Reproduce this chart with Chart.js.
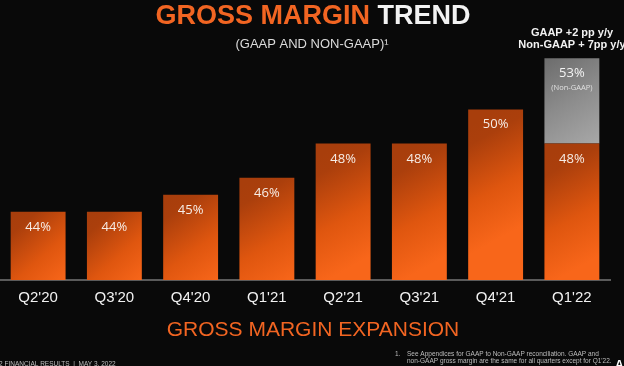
<!DOCTYPE html>
<html>
<head>
<meta charset="utf-8">
<script src="https://cdn.jsdelivr.net/npm/chart.js@4.4.0/dist/chart.umd.min.js"></script>
<style>
  html, body { margin: 0; padding: 0; background: #090909; }
  #wrap { position: relative; width: 624px; height: 366px; overflow: hidden; }
</style>
</head>
<body>
<div id="wrap"><canvas id="marginChart" width="624" height="366"></canvas></div>
<script>
// === Data ===
const quarters = ["Q2'20", "Q3'20", "Q4'20", "Q1'21", "Q2'21", "Q3'21", "Q4'21", "Q1'22"];
const gaapMargin = [44, 44, 45, 46, 48, 48, 50, 48];
const nonGaapMargin = [null, null, null, null, null, null, null, 53];

const ORANGE = "#f26522";

// === Gradient helpers ===
function barBox(chart, index, lo, hi) {
  const x = chart.scales.x;
  const y = chart.scales.y;
  const half = (x.getPixelForValue(1) - x.getPixelForValue(0)) * 0.72 / 2;
  const xc = x.getPixelForValue(index);
  return { left: xc - half, right: xc + half, top: y.getPixelForValue(hi), bottom: y.getPixelForValue(lo) };
}

function orangeFill(context) {
  const chart = context.chart;
  if (!chart.chartArea) return ORANGE;
  const b = barBox(chart, context.dataIndex, 40, gaapMargin[context.dataIndex]);
  const w = b.right - b.left;
  const h = b.bottom - b.top;
  const y0 = b.top + h * 0.1;
  const g = chart.ctx.createLinearGradient(b.left, y0, b.right, Math.min(b.bottom, y0 + w * 1.8));
  g.addColorStop(0, "#a83e0c");
  g.addColorStop(0.15, "#ab3f0c");
  g.addColorStop(0.6, "#df560f");
  g.addColorStop(1, "#f8661a");
  return g;
}

function grayFill(context) {
  const chart = context.chart;
  const v = nonGaapMargin[context.dataIndex];
  if (!chart.chartArea || v == null) return "#8a8a8a";
  const b = barBox(chart, context.dataIndex, gaapMargin[context.dataIndex], v);
  const g = chart.ctx.createLinearGradient(b.left, b.top, b.right, b.bottom);
  g.addColorStop(0, "#6c6c6c");
  g.addColorStop(0.5, "#8c8c8c");
  g.addColorStop(1, "#a8a8a8");
  return g;
}

// === Labels & slide text ===
const slideText = {
  id: "slideText",
  afterDatasetsDraw(chart) {
    const ctx = chart.ctx;
    ctx.save();
    ctx.textAlign = "center";
    ctx.textBaseline = "alphabetic";

    // bar values
    ctx.fillStyle = "#f7ede6";
    ctx.font = "13px 'Open Sans'";
    chart.getDatasetMeta(0).data.forEach((bar, i) => {
      ctx.fillText(gaapMargin[i] + "%", bar.x, bar.y + 19);
    });
    chart.getDatasetMeta(1).data.forEach((bar, i) => {
      if (nonGaapMargin[i] == null) return;
      ctx.fillStyle = "#f4f4f4";
      ctx.font = "13px 'Open Sans'";
      ctx.fillText(nonGaapMargin[i] + "%", bar.x, bar.y + 19);
      ctx.fillStyle = "#e0e0e0";
      ctx.font = "7.5px 'Open Sans'";
      ctx.fillText("(Non-GAAP)", bar.x, bar.y + 32);
    });

    // title
    ctx.font = "bold 27px 'Liberation Sans'";
    const t1 = "GROSS MARGIN ";
    const t2 = "TREND";
    const w1 = ctx.measureText(t1).width;
    const w2 = ctx.measureText(t2).width;
    const start = 313 - (w1 + w2) / 2;
    ctx.textAlign = "left";
    ctx.fillStyle = ORANGE;
    ctx.fillText(t1, start, 24);
    ctx.fillStyle = "#f2f2f2";
    ctx.fillText(t2, start + w1, 24);

    ctx.textAlign = "center";
    ctx.fillStyle = "#dcdcdc";
    ctx.font = "13px 'Liberation Sans'";
    ctx.fillText("(GAAP AND NON-GAAP)\u00b9", 312, 48);

    // y/y note
    ctx.fillStyle = "#f2f2f2";
    ctx.font = "bold 11px 'Liberation Sans'";
    ctx.fillText("GAAP +2 pp y/y", 572, 36);
    ctx.fillText("Non-GAAP + 7pp y/y", 572, 48);

    // bottom
    ctx.fillStyle = ORANGE;
    ctx.font = "21px 'Liberation Sans'";
    ctx.fillText("GROSS MARGIN EXPANSION", 313, 336);

    ctx.textAlign = "left";
    ctx.fillStyle = "#bdbdbd";
    ctx.font = "6.5px 'Liberation Sans'";
    ctx.fillText("2 FINANCIAL RESULTS  |  MAY 3, 2022", -1, 366);
    ctx.fillText("1.", 395, 356);
    ctx.fillText("See Appendices for GAAP to Non-GAAP reconciliation. GAAP and", 407, 356);
    ctx.fillText("non-GAAP gross margin are the same for all quarters except for Q1'22.", 407, 363);

    ctx.fillStyle = "#ffffff";
    ctx.font = "bold 12px 'Liberation Sans'";
    ctx.fillText("A", 615, 369);
    ctx.restore();
  },
};

new Chart(document.getElementById("marginChart"), {
  type: "bar",
  data: {
    labels: quarters,
    datasets: [
      {
        label: "GAAP",
        data: gaapMargin,
        backgroundColor: orangeFill,
        categoryPercentage: 0.72,
        barPercentage: 1,
        order: 1,
      },
      {
        label: "Non-GAAP",
        data: nonGaapMargin.map((v, i) => (v == null ? null : [gaapMargin[i], v])),
        backgroundColor: grayFill,
        categoryPercentage: 0.72,
        barPercentage: 1,
        order: 2,
      },
    ],
  },
  options: {
    responsive: false,
    animation: false,
    layout: { padding: { top: 7, right: 14, left: 0, bottom: 50 } },
    plugins: {
      legend: { display: false },
      tooltip: { enabled: false },
      title: { display: false },
    },
    scales: {
      x: {
        stacked: true,
        grid: { display: false, drawTicks: false },
        border: { display: true, color: "#5a5a5a", width: 2 },
        ticks: {
          color: "#f2f2f2",
          padding: 9,
          font: { family: "'Liberation Sans'", size: 15 },
        },
      },
      y: {
        display: false,
        min: 40,
        max: 56,
      },
    },
  },
  plugins: [slideText],
});
</script>
</body>
</html>
